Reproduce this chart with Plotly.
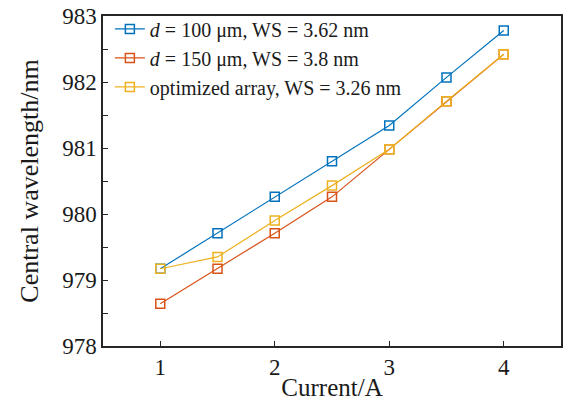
import plotly.graph_objects as go

current = [1, 1.5, 2, 2.5, 3, 3.5, 4]
wl_d100 = [979.17, 979.71, 980.26, 980.80, 981.34, 982.07, 982.78]
wl_d150 = [978.64, 979.17, 979.71, 980.26, 980.98, 981.71, 982.42]
wl_opt = [979.17, 979.35, 979.90, 980.43, 980.98, 981.71, 982.42]
names = ["<i>d</i> = 100 μm, WS = 3.62 nm",
         "<i>d</i> = 150 μm, WS = 3.8 nm",
         "optimized array, WS = 3.26 nm"]
colors = ["#0072BD", "#D95319", "#EDB120"]
x_ticks = [1, 2, 3, 4]
y_ticks = [978, 979, 980, 981, 982, 983]

FONT = "Liberation Serif"
fig = go.Figure()
for ys, nm, c in zip([wl_d100, wl_d150, wl_opt], names, colors):
    fig.add_trace(go.Scatter(
        x=current, y=ys, name=nm, mode="lines+markers",
        line=dict(color=c, width=1.2),
        marker=dict(symbol="square-open", size=9, color=c, line=dict(width=1.5, color=c)),
    ))

axis_common = dict(showgrid=False, zeroline=False, showline=True, linecolor="#262626",
                   linewidth=1.5, mirror=True, ticks="inside", ticklen=5, tickwidth=1,
                   tickcolor="#262626", automargin=False,
                   tickfont=dict(family=FONT, size=23, color="#1a1a1a"))
fig.update_xaxes(range=[0.5, 4.5], tickvals=x_ticks,
                 title=dict(text="Current/A", font=dict(family=FONT, size=25, color="#1a1a1a"), standoff=4),
                 **axis_common)
fig.update_yaxes(range=[978, 983], tickvals=y_ticks,
                 minor=dict(dtick=0.5, ticks="inside", ticklen=5, tickcolor="#262626"),
                 title=dict(text="Central wavelength/nm", font=dict(family=FONT, size=26, color="#1a1a1a"), standoff=16),
                 **axis_common)
fig.update_layout(
    width=564, height=401, margin=dict(l=103, r=3, t=16, b=55),
    plot_bgcolor="white", paper_bgcolor="white",
    showlegend=True,
    legend=dict(x=0.015, y=1.02, xanchor="left", yanchor="top", bgcolor="rgba(0,0,0,0)",
                font=dict(family=FONT, size=20, color="#1a1a1a"), tracegroupgap=0,
                itemwidth=30),
)
fig.write_html("out.html", config={"displayModeBar": False},
               post_script="document.body.style.margin='0';document.body.style.overflow='hidden';")
